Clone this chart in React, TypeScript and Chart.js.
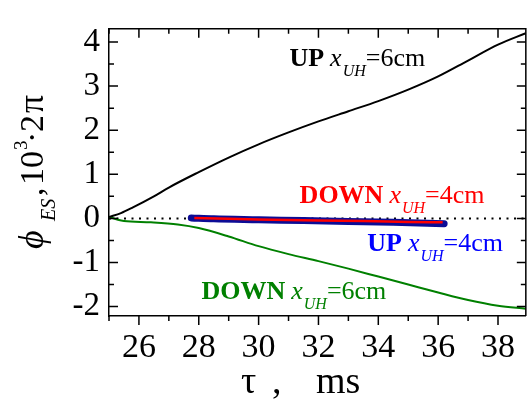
import React, { useEffect, useRef } from 'react';
import { Chart, registerables } from 'chart.js';

Chart.register(...registerables);

const FONT = '"Liberation Serif", "Times New Roman", serif';

// axis ranges and ticks
const xRange = [25, 38.93];
const yRange = [-2.214, 4.3];
const xLabelTicks = [26, 28, 30, 32, 34, 36, 38];
const xMinorTicks = [25, 27, 29, 31, 33, 35, 37];
const yLabelTicks = [-2, -1, 0, 1, 2, 3, 4];
const yMinorTicks = [-1.5, -0.5, 0.5, 1.5, 2.5, 3.5];

// series: UP x_UH=6cm (black)
const up6X = [25, 25.4, 25.8, 26.5, 27, 28, 29, 30, 31, 32, 33, 34, 35, 36, 37, 38, 38.93];
const up6Y = [0.03, 0.12, 0.25, 0.5, 0.7, 1.05, 1.38, 1.68, 1.95, 2.2, 2.43, 2.66, 2.92, 3.22, 3.58, 3.94, 4.2];

// series: DOWN x_UH=6cm (green)
const down6X = [25, 25.3, 25.5, 26.4, 27.3, 28, 29, 30, 31, 32, 33, 34, 35, 36, 37, 38, 38.93];
const down6Y = [0.04, -0.03, -0.06, -0.09, -0.14, -0.22, -0.41, -0.63, -0.81, -0.97, -1.14, -1.32, -1.5, -1.68, -1.85, -1.98, -2.05];

// series: UP x_UH=4cm (blue, thick)
const up4X = [27.75, 28.5, 30, 31.5, 33, 34.5, 36.2];
const up4Y = [0.01, -0.01, -0.03, -0.05, -0.07, -0.09, -0.12];

// series: DOWN x_UH=4cm (red, thin)
const down4X = [27.85, 29, 30.5, 32, 33.5, 35, 36.15];
const down4Y = [0.01, -0.01, -0.03, -0.05, -0.06, -0.08, -0.09];

// zero reference line
const zeroX = [25, 38.93];
const zeroY = [0, 0];

// curve labels: anchor (data coords of left/baseline), text pieces
const labelNames = ['UP', 'DOWN', 'UP', 'DOWN'];
const labelValues = ['=6cm', '=4cm', '=4cm', '=6cm'];
const labelColors = ['#000000', '#ff0000', '#0000ff', '#008000'];
const labelX = [31.03, 31.37, 33.63, 28.09];
const labelY = [3.45, 0.34, -0.73, -1.83];

const pts = (xs: number[], ys: number[]) => xs.map((x, i) => ({ x, y: ys[i] }));

type Part = { t: string; font: string; dy?: number; gap?: number; at?: number };

function drawParts(ctx: CanvasRenderingContext2D, x: number, y: number, color: string, parts: Part[]) {
  ctx.fillStyle = color;
  ctx.textAlign = 'left';
  ctx.textBaseline = 'alphabetic';
  let cx = x;
  for (const p of parts) {
    ctx.font = p.font;
    if (p.at !== undefined) cx = x + p.at;
    ctx.fillText(p.t, cx, y + (p.dy || 0));
    cx += ctx.measureText(p.t).width + (p.gap || 0);
  }
}

const decorPlugin = {
  id: 'decor',
  afterDraw(chart: any) {
    const ctx: CanvasRenderingContext2D = chart.ctx;
    const xs = chart.scales.x;
    const ys = chart.scales.y;
    const a = chart.chartArea;
    ctx.save();
    ctx.strokeStyle = '#000';
    ctx.lineWidth = 1.5;
    // frame top & right
    ctx.beginPath();
    ctx.moveTo(a.left, a.top);
    ctx.lineTo(a.right, a.top);
    ctx.lineTo(a.right, a.bottom);
    ctx.stroke();
    const MAJ = 9, MIN = 5;
    ctx.beginPath();
    const xt = (v: number, len: number) => {
      const px = xs.getPixelForValue(v);
      ctx.moveTo(px, a.bottom);
      ctx.lineTo(px, a.bottom + len);
      ctx.moveTo(px, a.top);
      ctx.lineTo(px, a.top + len);
    };
    const yt = (v: number, len: number) => {
      const py = ys.getPixelForValue(v);
      ctx.moveTo(a.left, py);
      ctx.lineTo(a.left + len, py);
      ctx.moveTo(a.right, py);
      ctx.lineTo(a.right - len, py);
    };
    xLabelTicks.forEach((v) => xt(v, MAJ));
    xMinorTicks.forEach((v) => xt(v, MIN));
    yLabelTicks.forEach((v) => yt(v, MAJ));
    yMinorTicks.forEach((v) => yt(v, MIN));
    ctx.stroke();

    // curve labels
    for (let i = 0; i < labelNames.length; i++) {
      const px = xs.getPixelForValue(labelX[i]);
      const py = ys.getPixelForValue(labelY[i]);
      drawParts(ctx, px, py, labelColors[i], [
        { t: labelNames[i], font: `bold 26px ${FONT}`, gap: 6 },
        { t: 'x', font: `italic 26px ${FONT}`, gap: 1 },
        { t: 'UH', font: `italic 16px ${FONT}`, dy: 10 },
        { t: labelValues[i], font: `26px ${FONT}` },
      ]);
    }

    // x axis title
    drawParts(ctx, 241, 393, '#000', [
      { t: 'τ', font: `38px ${FONT}`, at: 0 },
      { t: ',', font: `38px ${FONT}`, at: 31 },
      { t: 'ms', font: `38px ${FONT}`, at: 75 },
    ]);

    // y axis title (rotated, reading upward)
    ctx.translate(43, 249);
    ctx.rotate(-Math.PI / 2);
    drawParts(ctx, 0, 0, '#000', [
      { t: 'ϕ', font: `italic 36px ${FONT}`, at: 0 },
      { t: 'ES', font: `italic 20px ${FONT}`, dy: 12, at: 28 },
      { t: ',', font: `34px ${FONT}`, at: 53 },
      { t: '10', font: `34px ${FONT}`, at: 64 },
      { t: '3', font: `19px ${FONT}`, dy: -16, at: 99 },
      { t: '·', font: `34px ${FONT}`, at: 106 },
      { t: '2', font: `34px ${FONT}`, at: 117 },
      { t: 'π', font: `36px ${FONT}`, at: 136 },
    ]);
    ctx.restore();
  },
};

export default function App() {
  const ref = useRef<HTMLCanvasElement>(null);
  useEffect(() => {
    if (!ref.current) return;
    const line = (data: any, color: string, width: number, extra: any = {}) => ({
      data,
      borderColor: color,
      backgroundColor: color,
      borderWidth: width,
      pointRadius: 0,
      fill: false,
      cubicInterpolationMode: 'monotone',
      ...extra,
    });
    const chart = new Chart(ref.current, {
      type: 'line',
      data: {
        datasets: [
          line(pts(down4X, down4Y), '#ff0000', 2.5, { order: 0 }),
          line(pts(up4X, up4Y), '#0c0c96', 7, { order: 1, borderCapStyle: 'round', borderJoinStyle: 'round' }),
          line(pts(up6X, up6Y), '#000000', 2, { order: 2 }),
          line(pts(down6X, down6Y), '#008000', 2, { order: 3 }),
          line(pts(zeroX, zeroY), '#000000', 2, { order: 4, borderDash: [2, 5.5] }),
        ] as any,
      },
      options: {
        animation: false,
        responsive: true,
        maintainAspectRatio: false,
        layout: { padding: { top: 12, left: 0, right: 0, bottom: 0 } },
        plugins: { legend: { display: false }, tooltip: { enabled: false } },
        events: [],
        scales: {
          x: {
            type: 'linear',
            min: xRange[0],
            max: xRange[1],
            afterBuildTicks: (s: any) => {
              s.ticks = xLabelTicks.map((v) => ({ value: v }));
            },
            afterFit: (s: any) => {
              s.height = 85;
            },
            grid: { display: false, drawTicks: false },
            border: { display: true, color: '#000', width: 1.5 },
            ticks: {
              color: '#000',
              font: { family: FONT, size: 34 },
              padding: 12,
              maxRotation: 0,
              autoSkip: false,
            },
          },
          y: {
            type: 'linear',
            min: yRange[0],
            max: yRange[1],
            afterBuildTicks: (s: any) => {
              s.ticks = yLabelTicks.map((v) => ({ value: v }));
            },
            afterFit: (s: any) => {
              s.width = 109;
            },
            grid: { display: false, drawTicks: false },
            border: { display: true, color: '#000', width: 1.5 },
            ticks: {
              color: '#000',
              font: { family: FONT, size: 33 },
              padding: 9,
              autoSkip: false,
            },
          },
        },
      } as any,
      plugins: [decorPlugin],
    });
    return () => chart.destroy();
  }, []);
  return (
    <div style={{ position: 'absolute', left: 0, top: 0, width: 527, height: 401, background: '#fff' }}>
      <canvas ref={ref} />
    </div>
  );
}
